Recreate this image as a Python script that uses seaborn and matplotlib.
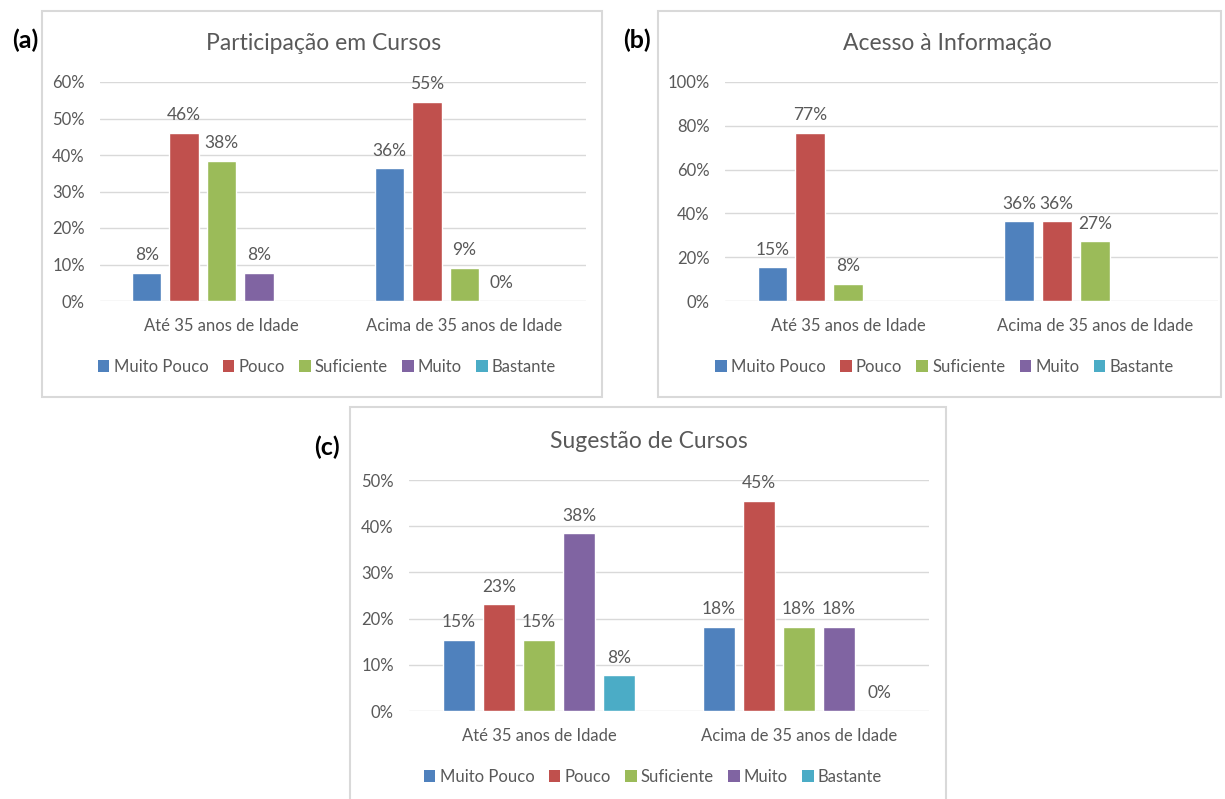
import seaborn as sns
import matplotlib.pyplot as plt
from matplotlib.patches import Rectangle, Patch
from matplotlib.ticker import PercentFormatter
import pandas as pd

# data (fractions), None = no bar
grupos = ["Até 35 anos de Idade", "Acima de 35 anos de Idade"]
niveis = ["Muito Pouco", "Pouco", "Suficiente", "Muito", "Bastante"]

part_ate = [0.0769, 0.4615, 0.3846, 0.0769, None]
part_acima = [0.3636, 0.5455, 0.0909, 0.0, None]

acesso_ate = [0.1538, 0.7692, 0.0769, None, None]
acesso_acima = [0.3636, 0.3636, 0.2727, None, None]

sug_ate = [0.1538, 0.2308, 0.1538, 0.3846, 0.0769]
sug_acima = [0.1818, 0.4545, 0.1818, 0.1818, 0.0]

cores = ["#4F81BD", "#C0504D", "#9BBB59", "#8064A2", "#4BACC6"]
cinza = "#595959"
grade = "#D9D9D9"

sns.set_theme(style="white")
plt.rcParams["font.family"] = ["Lato", "DejaVu Sans"]

W, H = 1225, 799
fig = plt.figure(figsize=(W / 100, H / 100), dpi=100)


def fx(px):
    return px / W


def fy(py):
    return 1 - py / H


def make_df(ate, acima):
    rows = []
    for g, vals in zip(grupos, [ate, acima]):
        for n, v in zip(niveis, vals):
            if v is not None:
                rows.append({"Grupo": g, "Nivel": n, "Valor": v})
    return pd.DataFrame(rows)


def panel(box, axpos, title, tpos, letter, lpos, legy, ate, acima, ymax, step):
    x0, y0, x1, y1 = box
    fig.patches.append(Rectangle((fx(x0), fy(y1)), fx(x1) - fx(x0), fy(y0) - fy(y1),
                                 transform=fig.transFigure, fill=False,
                                 edgecolor=grade, lw=1.5, zorder=0))
    l, t, r, b = axpos
    ax = fig.add_axes([fx(l), fy(b), fx(r) - fx(l), fy(t) - fy(b)])
    df = make_df(ate, acima)
    sns.barplot(data=df, x="Grupo", y="Valor", hue="Nivel", order=grupos,
                hue_order=niveis, palette=cores, width=0.77, gap=0.22,
                errorbar=None, legend=False, ax=ax, saturation=1)
    for c in ax.containers:
        ax.bar_label(c, fmt=lambda v: f"{round(v * 100)}%", padding=7,
                     fontsize=12.5, color=cinza)
    ax.set_xlim(-0.5, 1.5)
    ax.set_ylim(0, ymax)
    ax.set_yticks([i * step for i in range(int(round(ymax / step)) + 1)])
    ax.yaxis.set_major_formatter(PercentFormatter(1.0, decimals=0))
    ax.grid(axis="y", color=grade, lw=1)
    ax.set_axisbelow(True)
    for s in ax.spines.values():
        s.set_visible(False)
    ax.tick_params(axis="y", length=0, pad=11, labelsize=12, labelcolor=cinza)
    ax.tick_params(axis="x", length=0, pad=12, labelsize=12, labelcolor=cinza)
    ax.set_xlabel("")
    ax.set_ylabel("")
    fig.text(fx(tpos[0]), fy(tpos[1]), title, ha="center", va="center",
             fontsize=16.5, color=cinza)
    fig.text(fx(lpos[0]), fy(lpos[1]), letter, ha="center", va="center",
             fontsize=18, fontweight="bold", color="black")
    handles = [Patch(facecolor=c, edgecolor="none") for c in cores]
    fig.legend(handles, niveis, loc="center", ncol=5, frameon=False,
               bbox_to_anchor=(fx((x0 + x1) / 2 + 5), fy(legy)),
               fontsize=12, labelcolor=cinza, handlelength=0.7,
               handleheight=0.7, handletextpad=0.25, columnspacing=0.85)
    return ax


panel((42, 11, 602, 397), (100, 82, 586, 301), "Participação em Cursos",
      (324, 44), "(a)", (25, 40), 367, part_ate, part_acima, 0.6, 0.1)
panel((658, 11, 1221, 397), (725, 82, 1218, 301), "Acesso à Informação",
      (947, 44), "(b)", (637, 40), 367, acesso_ate, acesso_acima, 1.0, 0.2)
panel((350, 407, 946, 805), (409, 480, 929, 711), "Sugestão de Cursos",
      (649, 442), "(c)", (327, 447), 777, sug_ate, sug_acima, 0.5, 0.1)

plt.savefig("out.png", dpi=100)
